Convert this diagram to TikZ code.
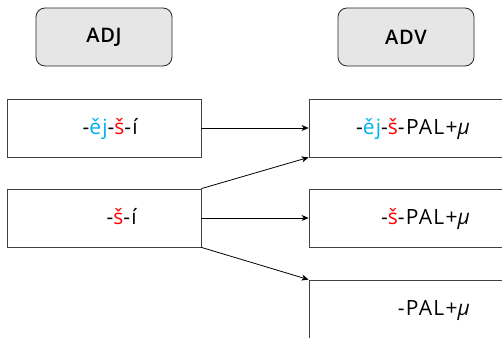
\documentclass[tikz,border=0pt]{standalone}
\usepackage{fontspec}
\setmainfont{Open Sans}
\newfontfamily\lblfont[LetterSpace=6]{Open Sans}
\newfontfamily\hdrfont[LetterSpace=4]{Open Sans Semibold}
\usetikzlibrary{arrows.meta}
\definecolor{cblue}{HTML}{00B0F0}
\definecolor{cred}{HTML}{FF0000}
\definecolor{hdrfill}{HTML}{E6E6E6}
\newcommand{\palmu}{PAL+{\itshape μ}}
\begin{document}
\begin{tikzpicture}[x=1pt,y=-1pt,
  hdr/.style={draw=black!85, fill=hdrfill, rounded corners=9pt, minimum width=136pt, minimum height=58pt, font=\hdrfont\fontsize{20}{24}\selectfont, line width=0.8pt},
  cell/.style={draw=black!75, minimum width=194pt, minimum height=58pt, line width=0.8pt},
  rcell/.style={draw=black!75, minimum width=240pt, minimum height=58pt, line width=0.8pt},
  lbl/.style={anchor=base east, font=\lblfont\fontsize{21}{24}\selectfont, inner sep=0pt},
  arr/.style={-{Stealth[length=7pt,width=6pt,inset=2pt]}, line width=0.8pt}]
\useasboundingbox (0,0) rectangle (502,337);
\clip (0,0) rectangle (502,337);
\node[hdr] (adj) at (104,37) {ADJ};
\node[hdr] (adv) at (406,37) {ADV};
\node[cell] (l1) at (104,128) {};
\node[cell] (l2) at (104,218) {};
\node[rcell] (r1) at (429,128) {};
\node[rcell] (r2) at (429,218) {};
\node[rcell] (r3) at (429,309) {};
\node[lbl] (t1) at (138,134) {-\textcolor{cblue}{ěj}-\textcolor{cred}{š}-í};
\node[lbl] (t2) at (137,224) {-\textcolor{cred}{š}-í};
\node[lbl] (t3) at (470,134) {-\textcolor{cblue}{ěj}-\textcolor{cred}{š}-\palmu};
\node[lbl] (t4) at (470,224) {-\textcolor{cred}{š}-\palmu};
\node[lbl] (t5) at (470,315) {-\palmu};
\draw[arr] (l1.east) -- (r1.west);
\draw[arr] (l2.north east) -- (r1.south west);
\draw[arr] (l2.east) -- (r2.west);
\draw[arr] (l2.south east) -- (r3.north west);
\end{tikzpicture}
\end{document}
